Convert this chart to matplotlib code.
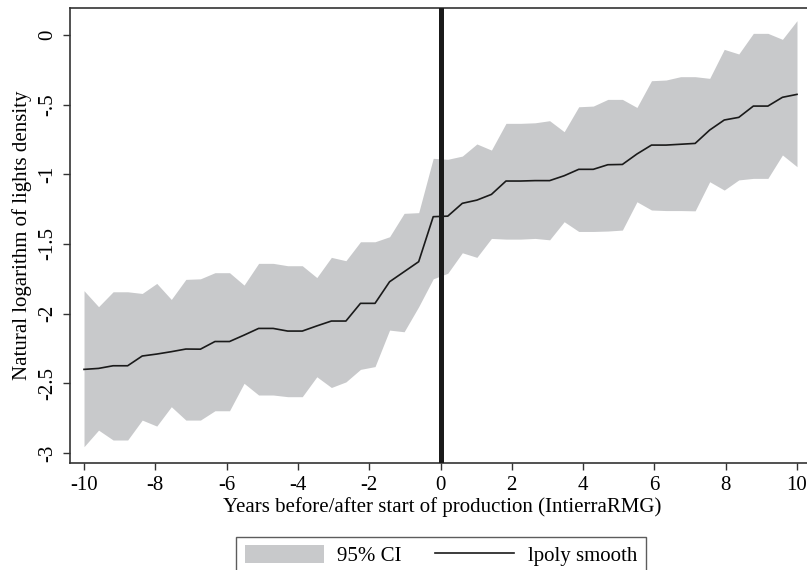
import numpy as np
import matplotlib
matplotlib.use("Agg")
import matplotlib.pyplot as plt
from matplotlib.patches import Patch
from matplotlib.lines import Line2D

plt.rcParams['font.family'] = ['Liberation Serif', 'DejaVu Serif']

# 50 evaluation points of the local polynomial smooth
years = np.linspace(-10, 10, 50)

smooth = [-2.400, -2.393, -2.374, -2.374, -2.304, -2.290, -2.273, -2.254, -2.255, -2.200,
          -2.200, -2.154, -2.106, -2.106, -2.125, -2.125, -2.088, -2.053, -2.053, -1.926,
          -1.926, -1.771, -1.699, -1.627, -1.304, -1.300, -1.208, -1.185, -1.144, -1.048,
          -1.048, -1.045, -1.045, -1.010, -0.964, -0.964, -0.931, -0.929, -0.854, -0.790,
          -0.790, -0.784, -0.778, -0.682, -0.610, -0.591, -0.510, -0.510, -0.447, -0.426]

ci_upper = [-1.835, -1.950, -1.843, -1.843, -1.855, -1.783, -1.898, -1.754, -1.750, -1.706,
            -1.706, -1.795, -1.639, -1.639, -1.656, -1.656, -1.741, -1.596, -1.620, -1.484,
            -1.484, -1.448, -1.280, -1.275, -0.885, -0.892, -0.869, -0.782, -0.826, -0.634,
            -0.634, -0.630, -0.615, -0.694, -0.515, -0.510, -0.462, -0.462, -0.520, -0.328,
            -0.323, -0.299, -0.299, -0.311, -0.103, -0.136, 0.012, 0.012, -0.031, 0.103]

ci_lower = [-2.955, -2.836, -2.907, -2.907, -2.764, -2.807, -2.668, -2.764, -2.764, -2.697,
            -2.697, -2.500, -2.584, -2.584, -2.596, -2.596, -2.453, -2.530, -2.490, -2.400,
            -2.380, -2.118, -2.130, -1.950, -1.750, -1.710, -1.563, -1.596, -1.460, -1.465,
            -1.465, -1.460, -1.470, -1.340, -1.410, -1.410, -1.407, -1.400, -1.197, -1.256,
            -1.260, -1.260, -1.262, -1.053, -1.113, -1.040, -1.029, -1.029, -0.861, -0.945]

xticks = [-10, -8, -6, -4, -2, 0, 2, 4, 6, 8, 10]
yticks = [0, -0.5, -1, -1.5, -2, -2.5, -3]
ytick_labels = ['0', '-.5', '-1', '-1.5', '-2', '-2.5', '-3']

W, H = 807, 570
fig = plt.figure(figsize=(W / 100, H / 100), dpi=100)
ax = fig.add_axes([70 / W, (H - 463) / H, 745 / W, 455 / H])

ci_color = '#c8c9cb'
ax.fill_between(years, ci_lower, ci_upper, color=ci_color, linewidth=0, zorder=1)
ax.plot(years, smooth, color='#1a1a1a', linewidth=1.2, zorder=3)
ax.axvline(0, color='#1a1a1a', linewidth=3.6, zorder=4)

ax.set_xlim(-10.393, 10.505)
ax.set_ylim(-3.072, 0.194)

ax.set_xticks(xticks)
ax.set_xticklabels([str(t) for t in xticks])
ax.set_yticks(yticks)
ax.set_yticklabels(ytick_labels, rotation=90, va='center')

ax.tick_params(axis='both', direction='out', length=5, width=1.0, color='#333333',
               labelsize=15, pad=4)

for side in ['left', 'bottom', 'top', 'right']:
    ax.spines[side].set_color('#333333')
    ax.spines[side].set_linewidth(1.2)

ax.set_xlabel('Years before/after start of production (IntierraRMG)', fontsize=15, labelpad=2)
ax.set_ylabel('Natural logarithm of lights density', fontsize=15, labelpad=5)

handles = [Patch(facecolor=ci_color, edgecolor='none'),
           Line2D([0], [0], color='#1a1a1a', linewidth=1.2)]
leg = fig.legend(handles, ['95% CI', 'lpoly smooth'], loc='upper center',
                 bbox_to_anchor=(441 / W, 1 - 537 / H), ncol=2, fontsize=15,
                 frameon=True, fancybox=False, edgecolor='#333333',
                 handlelength=3.8, handleheight=0.9, columnspacing=1.6,
                 handletextpad=0.65, borderpad=0.4, borderaxespad=0)
leg.get_frame().set_linewidth(1.0)

fig.savefig('out.png', dpi=100)
